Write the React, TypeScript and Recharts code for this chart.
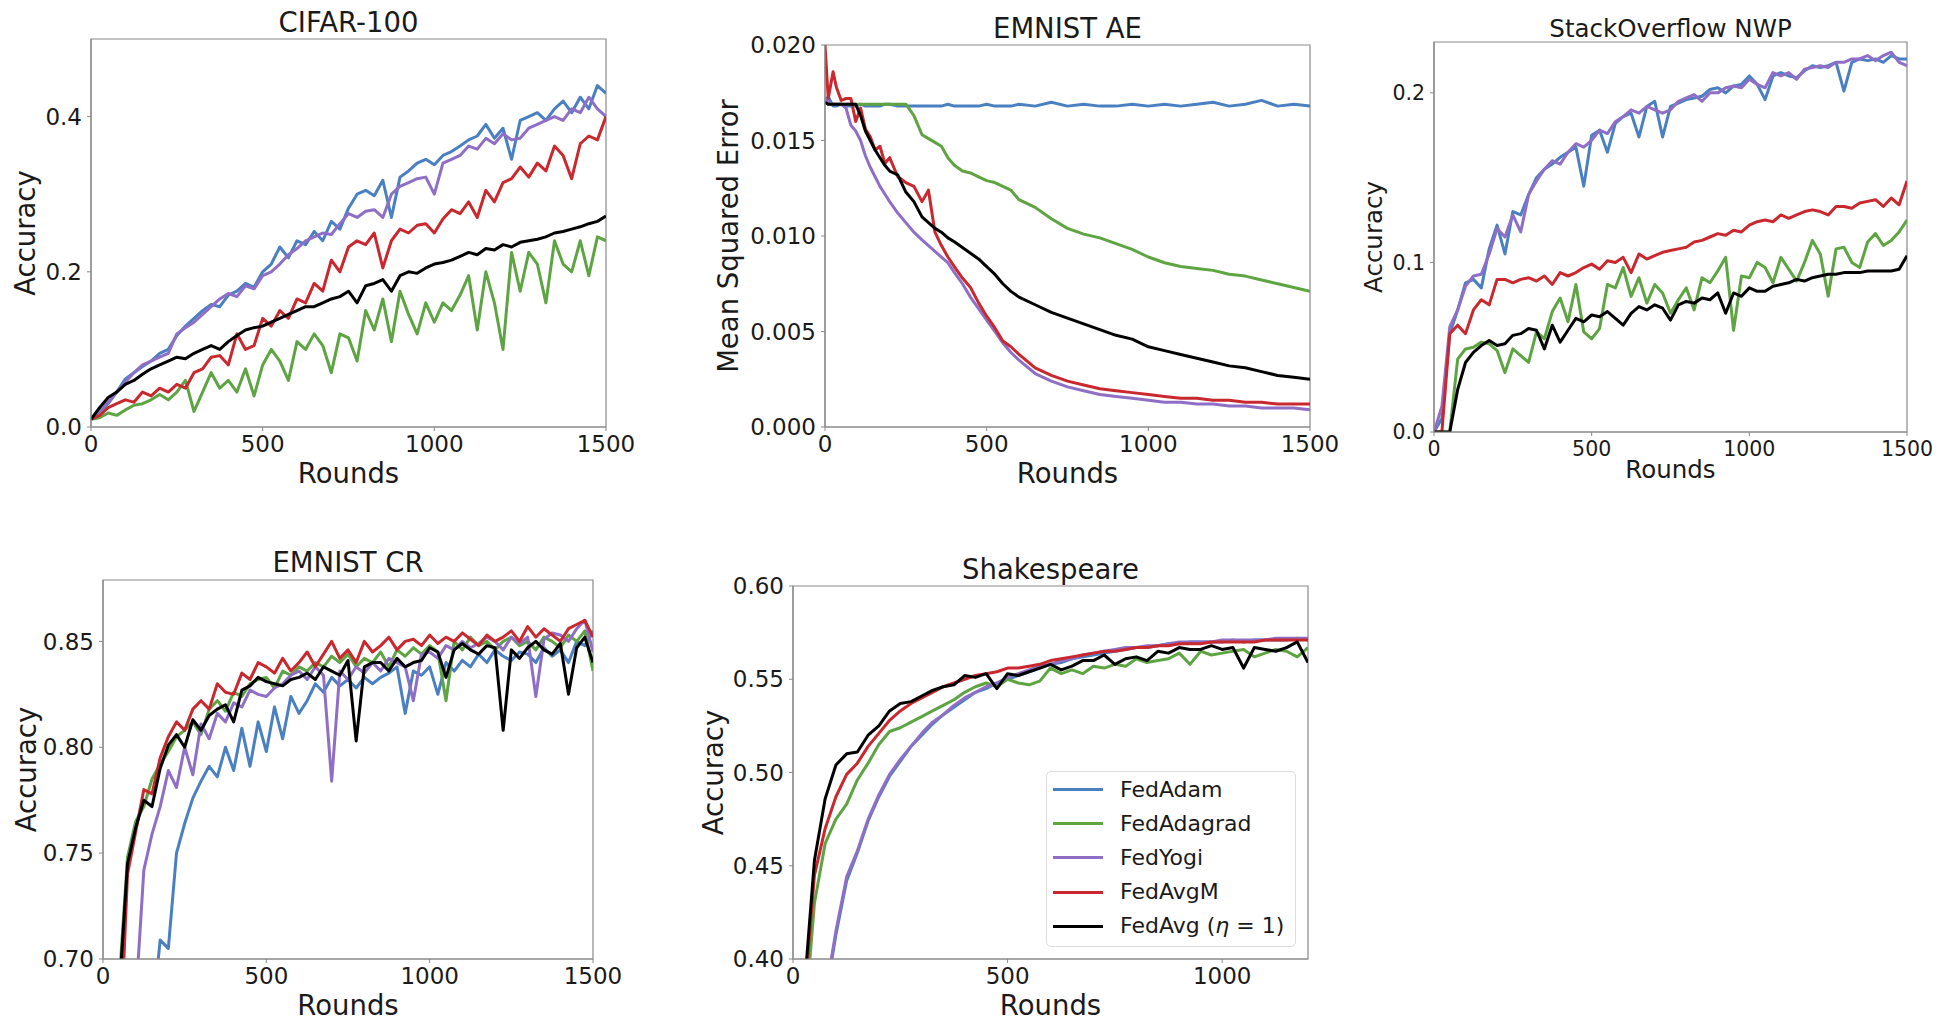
import { LineChart, Line, XAxis, YAxis, ReferenceArea } from 'recharts';

const FONT = '"DejaVu Sans", Verdana, sans-serif';
const FRAME = '#8a8a8a';
const TEXT = '#1a1a1a';

const SERIES = [
  { key: 'adam', name: 'FedAdam', color: '#4a80c2' },
  { key: 'adagrad', name: 'FedAdagrad', color: '#5ea443' },
  { key: 'yogi', name: 'FedYogi', color: '#8f6fc6' },
  { key: 'avgm', name: 'FedAvgM', color: '#c9282e' },
  { key: 'avg', name: 'FedAvg (η = 1)', color: '#000000' },
];

// rounds sampled every 25
const ROUNDS_1500 = [
  0, 25, 50, 75, 100, 125, 150, 175, 200, 225,
  250, 275, 300, 325, 350, 375, 400, 425, 450, 475,
  500, 525, 550, 575, 600, 625, 650, 675, 700, 725,
  750, 775, 800, 825, 850, 875, 900, 925, 950, 975,
  1000, 1025, 1050, 1075, 1100, 1125, 1150, 1175, 1200, 1225,
  1250, 1275, 1300, 1325, 1350, 1375, 1400, 1425, 1450, 1475,
  1500,
];
const ROUNDS_1200 = [
  0, 25, 50, 75, 100, 125, 150, 175, 200, 225,
  250, 275, 300, 325, 350, 375, 400, 425, 450, 475,
  500, 525, 550, 575, 600, 625, 650, 675, 700, 725,
  750, 775, 800, 825, 850, 875, 900, 925, 950, 975,
  1000, 1025, 1050, 1075, 1100, 1125, 1150, 1175,
  1200,
];
const ROUNDS_AE = [
  0, 10, 25, 35, 50, 65, 80, 95, 110, 125,
  140, 155, 170, 185, 200, 225, 250, 275, 300, 320,
  340, 360, 380, 400, 425, 450, 475, 500, 525, 550,
  575, 600, 650, 700, 750, 800, 850, 900, 950, 1000,
  1050, 1100, 1150, 1200, 1250, 1300, 1350, 1400, 1450, 1500,
];

// CIFAR-100
const CIFAR_ADAM = [
  0.010, 0.020, 0.030, 0.045, 0.062, 0.070, 0.078, 0.085, 0.095, 0.100,
  0.118, 0.130, 0.140, 0.150, 0.158, 0.155, 0.170, 0.175, 0.185, 0.180,
  0.200, 0.210, 0.232, 0.218, 0.240, 0.235, 0.252, 0.240, 0.265, 0.255,
  0.282, 0.300, 0.305, 0.298, 0.318, 0.270, 0.322, 0.330, 0.340, 0.345,
  0.338, 0.350, 0.355, 0.362, 0.370, 0.375, 0.390, 0.372, 0.385, 0.345,
  0.395, 0.400, 0.405, 0.395, 0.410, 0.420, 0.405, 0.425, 0.410, 0.440,
  0.430,
];
const CIFAR_ADAGRAD = [
  0.010, 0.012, 0.018, 0.015, 0.022, 0.028, 0.030, 0.035, 0.042, 0.035,
  0.045, 0.060, 0.020, 0.045, 0.070, 0.050, 0.060, 0.045, 0.075, 0.040,
  0.080, 0.100, 0.085, 0.060, 0.110, 0.100, 0.120, 0.105, 0.070, 0.120,
  0.115, 0.085, 0.150, 0.125, 0.165, 0.110, 0.175, 0.145, 0.120, 0.160,
  0.135, 0.160, 0.150, 0.170, 0.195, 0.125, 0.200, 0.160, 0.100, 0.225,
  0.175, 0.225, 0.210, 0.160, 0.240, 0.210, 0.200, 0.240, 0.195, 0.245,
  0.240,
];
const CIFAR_YOGI = [
  0.010, 0.022, 0.032, 0.045, 0.058, 0.070, 0.080, 0.085, 0.090, 0.095,
  0.120, 0.128, 0.135, 0.145, 0.155, 0.165, 0.172, 0.168, 0.182, 0.178,
  0.195, 0.200, 0.210, 0.222, 0.230, 0.240, 0.245, 0.250, 0.248, 0.262,
  0.275, 0.270, 0.278, 0.280, 0.270, 0.300, 0.310, 0.315, 0.320, 0.322,
  0.300, 0.340, 0.345, 0.350, 0.362, 0.358, 0.372, 0.365, 0.378, 0.370,
  0.372, 0.385, 0.390, 0.395, 0.400, 0.395, 0.410, 0.405, 0.425, 0.410,
  0.400,
];
const CIFAR_AVGM = [
  0.010, 0.015, 0.025, 0.030, 0.035, 0.032, 0.045, 0.040, 0.050, 0.045,
  0.055, 0.050, 0.070, 0.075, 0.090, 0.092, 0.080, 0.120, 0.100, 0.105,
  0.140, 0.130, 0.150, 0.140, 0.165, 0.160, 0.185, 0.175, 0.215, 0.200,
  0.232, 0.240, 0.235, 0.250, 0.205, 0.240, 0.255, 0.250, 0.260, 0.262,
  0.250, 0.268, 0.280, 0.275, 0.290, 0.270, 0.305, 0.290, 0.315, 0.320,
  0.335, 0.322, 0.340, 0.330, 0.362, 0.350, 0.320, 0.365, 0.375, 0.370,
  0.400,
];
const CIFAR_AVG = [
  0.010, 0.025, 0.038, 0.045, 0.055, 0.060, 0.068, 0.075, 0.080, 0.085,
  0.090, 0.088, 0.095, 0.100, 0.105, 0.100, 0.110, 0.118, 0.125, 0.128,
  0.130, 0.135, 0.140, 0.145, 0.150, 0.155, 0.155, 0.160, 0.165, 0.168,
  0.175, 0.160, 0.182, 0.185, 0.190, 0.175, 0.195, 0.200, 0.198, 0.205,
  0.210, 0.212, 0.215, 0.220, 0.225, 0.222, 0.230, 0.228, 0.235, 0.232,
  0.238, 0.240, 0.242, 0.245, 0.250, 0.252, 0.255, 0.258, 0.262, 0.265,
  0.272,
];

// EMNIST AE
const AE_ADAM = [
  0.0170, 0.0173, 0.0168, 0.0168, 0.0169, 0.0168, 0.0168, 0.0168, 0.0169, 0.0168,
  0.0168, 0.0168, 0.0168, 0.0169, 0.0169, 0.0168, 0.0168, 0.0168, 0.0168, 0.0168,
  0.0168, 0.0168, 0.0169, 0.0168, 0.0168, 0.0168, 0.0168, 0.0169, 0.0168, 0.0168,
  0.0168, 0.0169, 0.0168, 0.0170, 0.0168, 0.0169, 0.0168, 0.0168, 0.0169, 0.0168,
  0.0169, 0.0168, 0.0169, 0.0170, 0.0168, 0.0169, 0.0171, 0.0168, 0.0169, 0.0168,
];
const AE_ADAGRAD = [
  0.0170, 0.0169, 0.0169, 0.0169, 0.0169, 0.0169, 0.0169, 0.0169, 0.0169, 0.0169,
  0.0169, 0.0169, 0.0169, 0.0169, 0.0169, 0.0169, 0.0169, 0.0163, 0.0153, 0.0151,
  0.0149, 0.0147, 0.0141, 0.0137, 0.0134, 0.0133, 0.0131, 0.0129, 0.0128, 0.0126,
  0.0124, 0.0119, 0.0115, 0.0109, 0.0104, 0.0101, 0.0099, 0.0096, 0.0093, 0.0089,
  0.0086, 0.0084, 0.0083, 0.0082, 0.0080, 0.0079, 0.0077, 0.0075, 0.0073, 0.0071,
];
const AE_YOGI = [
  0.0172, 0.0170, 0.0169, 0.0169, 0.0169, 0.0167, 0.0158, 0.0155, 0.0150, 0.0142,
  0.0136, 0.0131, 0.0126, 0.0122, 0.0118, 0.0112, 0.0107, 0.0102, 0.0098, 0.0095,
  0.0092, 0.0089, 0.0086, 0.0081, 0.0075, 0.0068, 0.0062, 0.0056, 0.0050, 0.0044,
  0.0039, 0.0035, 0.0028, 0.0024, 0.0021, 0.0019, 0.0017, 0.0016, 0.0015, 0.0014,
  0.0013, 0.0013, 0.0012, 0.0012, 0.0011, 0.0011, 0.0010, 0.0010, 0.0010, 0.0009,
];
const AE_AVGM = [
  0.0200, 0.0172, 0.0186, 0.0178, 0.0171, 0.0172, 0.0172, 0.0160, 0.0167, 0.0156,
  0.0152, 0.0145, 0.0147, 0.0138, 0.0141, 0.0131, 0.0128, 0.0126, 0.0118, 0.0124,
  0.0102, 0.0095, 0.0089, 0.0084, 0.0078, 0.0073, 0.0065, 0.0058, 0.0052, 0.0045,
  0.0042, 0.0038, 0.0031, 0.0027, 0.0024, 0.0022, 0.0020, 0.0019, 0.0018, 0.0017,
  0.0016, 0.0015, 0.0015, 0.0014, 0.0014, 0.0013, 0.0013, 0.0012, 0.0012, 0.0012,
];
const AE_AVG = [
  0.0170, 0.0169, 0.0169, 0.0169, 0.0169, 0.0169, 0.0169, 0.0169, 0.0163, 0.0155,
  0.0150, 0.0145, 0.0141, 0.0137, 0.0134, 0.0132, 0.0123, 0.0118, 0.0110, 0.0107,
  0.0104, 0.0102, 0.0099, 0.0097, 0.0094, 0.0091, 0.0088, 0.0084, 0.0080, 0.0075,
  0.0071, 0.0068, 0.0064, 0.0060, 0.0057, 0.0054, 0.0051, 0.0048, 0.0046, 0.0042,
  0.0040, 0.0038, 0.0036, 0.0034, 0.0032, 0.0031, 0.0029, 0.0027, 0.0026, 0.0025,
];

// StackOverflow NWP
const SO_ADAM = [
  0.000, 0.008, 0.058, 0.072, 0.088, 0.090, 0.085, 0.108, 0.122, 0.105,
  0.130, 0.128, 0.140, 0.150, 0.155, 0.158, 0.162, 0.165, 0.168, 0.145,
  0.175, 0.178, 0.165, 0.182, 0.186, 0.188, 0.174, 0.192, 0.195, 0.174,
  0.192, 0.194, 0.196, 0.197, 0.198, 0.202, 0.203, 0.200, 0.204, 0.205,
  0.210, 0.205, 0.196, 0.210, 0.212, 0.210, 0.209, 0.213, 0.216, 0.215,
  0.216, 0.218, 0.201, 0.218, 0.220, 0.219, 0.220, 0.218, 0.222, 0.220,
  0.220,
];
const SO_ADAGRAD = [
  0.000, 0.000, 0.000, 0.043, 0.049, 0.050, 0.053, 0.052, 0.048, 0.035,
  0.049, 0.045, 0.041, 0.059, 0.055, 0.071, 0.079, 0.065, 0.087, 0.059,
  0.055, 0.061, 0.087, 0.085, 0.097, 0.080, 0.091, 0.076, 0.087, 0.082,
  0.070, 0.078, 0.085, 0.072, 0.091, 0.088, 0.095, 0.103, 0.060, 0.092,
  0.091, 0.100, 0.097, 0.088, 0.103, 0.096, 0.089, 0.100, 0.113, 0.105,
  0.080, 0.108, 0.109, 0.100, 0.097, 0.112, 0.117, 0.110, 0.113, 0.118,
  0.125,
];
const SO_YOGI = [
  0.000, 0.015, 0.062, 0.072, 0.086, 0.092, 0.093, 0.105, 0.120, 0.115,
  0.128, 0.118, 0.140, 0.148, 0.155, 0.160, 0.158, 0.165, 0.170, 0.168,
  0.172, 0.178, 0.176, 0.183, 0.186, 0.190, 0.188, 0.192, 0.190, 0.188,
  0.190, 0.195, 0.197, 0.199, 0.195, 0.200, 0.200, 0.203, 0.204, 0.203,
  0.208, 0.205, 0.203, 0.212, 0.210, 0.212, 0.208, 0.214, 0.215, 0.216,
  0.215, 0.218, 0.218, 0.220, 0.220, 0.222, 0.219, 0.222, 0.224, 0.218,
  0.216,
];
const SO_AVGM = [
  0.000, 0.000, 0.058, 0.063, 0.058, 0.072, 0.078, 0.075, 0.090, 0.090,
  0.088, 0.090, 0.091, 0.089, 0.092, 0.087, 0.094, 0.092, 0.094, 0.097,
  0.099, 0.096, 0.101, 0.100, 0.103, 0.094, 0.105, 0.102, 0.104, 0.106,
  0.107, 0.108, 0.109, 0.112, 0.113, 0.115, 0.117, 0.116, 0.119, 0.118,
  0.122, 0.124, 0.125, 0.124, 0.128, 0.126, 0.128, 0.130, 0.131, 0.130,
  0.128, 0.133, 0.133, 0.132, 0.135, 0.136, 0.137, 0.133, 0.138, 0.134,
  0.148,
];
const SO_AVG = [
  0.000, 0.000, 0.000, 0.025, 0.041, 0.047, 0.051, 0.054, 0.051, 0.052,
  0.057, 0.058, 0.061, 0.060, 0.049, 0.063, 0.053, 0.060, 0.067, 0.065,
  0.069, 0.068, 0.071, 0.067, 0.063, 0.070, 0.074, 0.072, 0.075, 0.073,
  0.066, 0.075, 0.077, 0.076, 0.079, 0.078, 0.082, 0.070, 0.082, 0.080,
  0.085, 0.083, 0.083, 0.086, 0.087, 0.088, 0.090, 0.089, 0.091, 0.092,
  0.093, 0.093, 0.094, 0.094, 0.094, 0.095, 0.095, 0.095, 0.095, 0.096,
  0.104,
];

// EMNIST CR
const CR_ADAM = [
  0.050, 0.200, 0.350, 0.450, 0.550, 0.620, 0.670, 0.709, 0.705, 0.750,
  0.764, 0.776, 0.784, 0.791, 0.786, 0.800, 0.789, 0.809, 0.791, 0.812,
  0.798, 0.819, 0.804, 0.824, 0.816, 0.822, 0.830, 0.826, 0.833, 0.829,
  0.832, 0.828, 0.833, 0.830, 0.833, 0.835, 0.838, 0.816, 0.836, 0.834,
  0.838, 0.825, 0.840, 0.836, 0.841, 0.838, 0.844, 0.840, 0.846, 0.843,
  0.841, 0.845, 0.844, 0.840, 0.847, 0.843, 0.846, 0.840, 0.850, 0.848,
  0.855,
];
const CR_ADAGRAD = [
  0.050, 0.440, 0.690, 0.748, 0.765, 0.772, 0.785, 0.792, 0.798, 0.805,
  0.808, 0.812, 0.806, 0.818, 0.822, 0.817, 0.826, 0.824, 0.830, 0.832,
  0.833, 0.828, 0.836, 0.834, 0.838, 0.836, 0.840, 0.838, 0.843, 0.840,
  0.844, 0.838, 0.842, 0.840, 0.845, 0.838, 0.846, 0.843, 0.847, 0.844,
  0.848, 0.845, 0.822, 0.850, 0.846, 0.852, 0.848, 0.850, 0.846, 0.850,
  0.852, 0.848, 0.850, 0.846, 0.852, 0.850, 0.847, 0.853, 0.850, 0.855,
  0.836,
];
const CR_YOGI = [
  0.050, 0.250, 0.420, 0.550, 0.680, 0.742, 0.759, 0.772, 0.789, 0.781,
  0.800, 0.787, 0.811, 0.804, 0.816, 0.812, 0.821, 0.819, 0.827, 0.825,
  0.824, 0.828, 0.830, 0.834, 0.836, 0.832, 0.838, 0.834, 0.784, 0.836,
  0.832, 0.838, 0.835, 0.840, 0.836, 0.842, 0.840, 0.838, 0.822, 0.844,
  0.845, 0.842, 0.848, 0.846, 0.850, 0.847, 0.849, 0.852, 0.850, 0.846,
  0.852, 0.849, 0.852, 0.824, 0.851, 0.854, 0.853, 0.850, 0.856, 0.860,
  0.845,
];
const CR_AVGM = [
  0.050, 0.420, 0.650, 0.740, 0.760, 0.780, 0.778, 0.795, 0.805, 0.812,
  0.808, 0.818, 0.822, 0.818, 0.830, 0.826, 0.825, 0.835, 0.832, 0.840,
  0.838, 0.835, 0.842, 0.836, 0.840, 0.845, 0.838, 0.844, 0.850, 0.842,
  0.846, 0.840, 0.850, 0.845, 0.848, 0.852, 0.846, 0.850, 0.851, 0.848,
  0.853, 0.849, 0.852, 0.850, 0.854, 0.851, 0.848, 0.853, 0.850, 0.852,
  0.855, 0.850, 0.857, 0.852, 0.856, 0.853, 0.850, 0.856, 0.858, 0.860,
  0.852,
];
const CR_AVG = [
  0.050, 0.450, 0.685, 0.745, 0.762, 0.775, 0.772, 0.790, 0.801, 0.806,
  0.800, 0.813, 0.808, 0.815, 0.818, 0.820, 0.812, 0.827, 0.829, 0.833,
  0.831, 0.830, 0.829, 0.832, 0.833, 0.835, 0.832, 0.838, 0.836, 0.834,
  0.841, 0.803, 0.838, 0.840, 0.840, 0.836, 0.842, 0.838, 0.840, 0.841,
  0.847, 0.845, 0.833, 0.846, 0.849, 0.846, 0.844, 0.848, 0.847, 0.808,
  0.846, 0.842, 0.847, 0.850, 0.846, 0.844, 0.849, 0.825, 0.847, 0.852,
  0.840,
];

// Shakespeare
const SH_ADAM = [
  0.050, 0.200, 0.330, 0.378, 0.413, 0.442, 0.457, 0.474, 0.487, 0.498,
  0.506, 0.514, 0.520, 0.526, 0.531, 0.535, 0.539, 0.543, 0.545, 0.548,
  0.550, 0.552, 0.554, 0.556, 0.558, 0.559, 0.561, 0.562, 0.563, 0.564,
  0.565, 0.566, 0.567, 0.567, 0.568, 0.569, 0.569, 0.570, 0.570, 0.570,
  0.570, 0.571, 0.570, 0.571, 0.571, 0.571, 0.571, 0.572,
  0.571,
];
const SH_ADAGRAD = [
  0.100, 0.360, 0.430, 0.462, 0.475, 0.483, 0.496, 0.505, 0.515, 0.522,
  0.524, 0.527, 0.530, 0.533, 0.536, 0.539, 0.543, 0.546, 0.548, 0.546,
  0.550, 0.548, 0.547, 0.549, 0.556, 0.553, 0.555, 0.553, 0.557, 0.556,
  0.558, 0.557, 0.561, 0.559, 0.560, 0.561, 0.564, 0.558, 0.565, 0.563,
  0.564, 0.565, 0.566, 0.562, 0.564, 0.566, 0.565, 0.562,
  0.567,
];
const SH_YOGI = [
  0.050, 0.200, 0.330, 0.380, 0.415, 0.444, 0.458, 0.475, 0.488, 0.499,
  0.507, 0.514, 0.521, 0.527, 0.531, 0.536, 0.540, 0.543, 0.546, 0.548,
  0.551, 0.553, 0.555, 0.557, 0.558, 0.560, 0.561, 0.563, 0.564, 0.565,
  0.566, 0.567, 0.567, 0.568, 0.568, 0.569, 0.570, 0.570, 0.570, 0.570,
  0.571, 0.571, 0.571, 0.571, 0.571, 0.572, 0.572, 0.572,
  0.572,
];
const SH_AVGM = [
  0.100, 0.375, 0.445, 0.470, 0.487, 0.499, 0.505, 0.514, 0.521, 0.528,
  0.533, 0.537, 0.540, 0.543, 0.546, 0.548, 0.550, 0.552, 0.553, 0.554,
  0.556, 0.556, 0.557, 0.558, 0.560, 0.561, 0.562, 0.563, 0.564, 0.565,
  0.565, 0.566, 0.567, 0.567, 0.568, 0.568, 0.569, 0.569, 0.569, 0.570,
  0.570, 0.570, 0.570, 0.570, 0.571, 0.571, 0.571, 0.571,
  0.571,
];
const SH_AVG = [
  0.100, 0.380, 0.453, 0.486, 0.504, 0.510, 0.511, 0.520, 0.525, 0.533,
  0.537, 0.538, 0.541, 0.544, 0.546, 0.547, 0.552, 0.551, 0.553, 0.545,
  0.553, 0.552, 0.554, 0.556, 0.558, 0.555, 0.557, 0.560, 0.560, 0.563,
  0.558, 0.561, 0.562, 0.560, 0.565, 0.564, 0.567, 0.566, 0.566, 0.568,
  0.566, 0.567, 0.556, 0.567, 0.566, 0.565, 0.567, 0.570,
  0.559,
];

const PANELS = [
  {
    title: 'CIFAR-100', ylabel: 'Accuracy',
    rounds: ROUNDS_1500,
    values: { adam: CIFAR_ADAM, adagrad: CIFAR_ADAGRAD, yogi: CIFAR_YOGI, avgm: CIFAR_AVGM, avg: CIFAR_AVG },
    xDomain: [0, 1500], xTicks: [0, 500, 1000, 1500],
    yDomain: [0, 0.5], yTicks: [0, 0.2, 0.4], digits: 1,
    box: { left: 91, top: 39, width: 515, height: 388 },
    titleY: 32, xlabelY: 483, ylabelX: 35, tickFont: 23, labelFont: 27.5,
  },
  {
    title: 'EMNIST AE', ylabel: 'Mean Squared Error',
    rounds: ROUNDS_AE,
    values: { adam: AE_ADAM, adagrad: AE_ADAGRAD, yogi: AE_YOGI, avgm: AE_AVGM, avg: AE_AVG },
    xDomain: [0, 1500], xTicks: [0, 500, 1000, 1500],
    yDomain: [0, 0.02], yTicks: [0, 0.005, 0.01, 0.015, 0.02], digits: 3,
    box: { left: 825, top: 45, width: 485, height: 382 },
    titleY: 38, xlabelY: 483, ylabelX: 738, tickFont: 23, labelFont: 27.5,
  },
  {
    title: 'StackOverflow NWP', ylabel: 'Accuracy',
    rounds: ROUNDS_1500,
    values: { adam: SO_ADAM, adagrad: SO_ADAGRAD, yogi: SO_YOGI, avgm: SO_AVGM, avg: SO_AVG },
    xDomain: [0, 1500], xTicks: [0, 500, 1000, 1500],
    yDomain: [0, 0.23], yTicks: [0, 0.1, 0.2], digits: 1,
    box: { left: 1434, top: 42, width: 473, height: 390 },
    titleY: 37, xlabelY: 478, ylabelX: 1382, tickFont: 20.5, labelFont: 24.5,
  },
  {
    title: 'EMNIST CR', ylabel: 'Accuracy',
    rounds: ROUNDS_1500,
    values: { adam: CR_ADAM, adagrad: CR_ADAGRAD, yogi: CR_YOGI, avgm: CR_AVGM, avg: CR_AVG },
    xDomain: [0, 1500], xTicks: [0, 500, 1000, 1500],
    yDomain: [0.7, 0.879], yTicks: [0.7, 0.75, 0.8, 0.85], digits: 2,
    box: { left: 103, top: 580, width: 490, height: 379 },
    titleY: 572, xlabelY: 1015, ylabelX: 36, tickFont: 23, labelFont: 27.5,
  },
  {
    title: 'Shakespeare', ylabel: 'Accuracy',
    rounds: ROUNDS_1200,
    values: { adam: SH_ADAM, adagrad: SH_ADAGRAD, yogi: SH_YOGI, avgm: SH_AVGM, avg: SH_AVG },
    xDomain: [0, 1200], xTicks: [0, 500, 1000],
    yDomain: [0.4, 0.6], yTicks: [0.4, 0.45, 0.5, 0.55, 0.6], digits: 2,
    box: { left: 793, top: 586, width: 515, height: 373 },
    titleY: 579, xlabelY: 1015, ylabelX: 723, tickFont: 23, labelFont: 27.5,
  },
];

const YW = 100;
const TOP = 20;
const RIGHT = 45;
const XH = 50;

function Panel({ p }: { p: any }) {
  const data = p.rounds.map((r: number, i: number) => {
    const row: any = { round: r };
    SERIES.forEach((s) => { row[s.key] = p.values[s.key][i]; });
    return row;
  });
  const tick = { fill: TEXT, fontSize: p.tickFont, fontFamily: FONT };
  return (
    <div style={{ position: 'absolute', left: p.box.left - YW, top: p.box.top - TOP }}>
      <LineChart
        width={p.box.width + YW + RIGHT}
        height={p.box.height + TOP + XH}
        data={data}
        margin={{ top: TOP, right: RIGHT, bottom: 0, left: 0 }}
      >
        <XAxis
          dataKey="round" type="number" domain={p.xDomain} ticks={p.xTicks} interval={0}
          allowDataOverflow height={XH} tickSize={4} tickMargin={5}
          axisLine={{ stroke: FRAME, strokeWidth: 1.2 }} tickLine={{ stroke: FRAME }} tick={tick}
        />
        <YAxis
          type="number" domain={p.yDomain} ticks={p.yTicks} interval={0}
          allowDataOverflow width={YW} tickSize={4} tickMargin={5}
          axisLine={{ stroke: FRAME, strokeWidth: 1.2 }} tickLine={{ stroke: FRAME }} tick={tick}
          tickFormatter={(v: number) => v.toFixed(p.digits)}
        />
        <ReferenceArea
          x1={p.xDomain[0]} x2={p.xDomain[1]} y1={p.yDomain[0]} y2={p.yDomain[1]}
          fill="none" stroke={FRAME} strokeWidth={1.2}
        />
        {SERIES.map((s) => (
          <Line
            key={s.key} dataKey={s.key} name={s.name} type="linear" stroke={s.color}
            strokeWidth={3} strokeLinejoin="round" dot={false} isAnimationActive={false}
          />
        ))}
      </LineChart>
    </div>
  );
}

function LegendName({ name }: { name: string }) {
  if (!name.includes('η')) return <>{name}</>;
  const [a, b] = name.split('η');
  return <>{a}<i>η</i>{b}</>;
}

function LegendBox() {
  return (
    <div style={{
      position: 'absolute', left: 1046, top: 771, width: 250, height: 176,
      border: '1px solid #dcdcdc', borderRadius: 5, background: 'rgba(255,255,255,0.85)',
      boxSizing: 'border-box',
    }}>
      {SERIES.map((s, i) => (
        <div key={s.key} style={{
          position: 'absolute', left: 6, top: 3.5 + i * 34.2, height: 28,
          display: 'flex', alignItems: 'center', whiteSpace: 'nowrap',
        }}>
          <div style={{ width: 50, height: 3, background: s.color }} />
          <span style={{ marginLeft: 17, fontFamily: FONT, fontSize: 22, color: TEXT, lineHeight: '28px' }}>
            <LegendName name={s.name} />
          </span>
        </div>
      ))}
    </div>
  );
}

export default function App() {
  return (
    <div style={{
      position: 'absolute', left: 0, top: 0, width: 1956, height: 1020,
      background: '#ffffff', overflow: 'hidden',
    }}>
      {PANELS.map((p) => <Panel key={p.title} p={p} />)}
      <svg width={1956} height={1020} style={{ position: 'absolute', left: 0, top: 0, pointerEvents: 'none' }}>
        {PANELS.map((p) => {
          const cx = p.box.left + p.box.width / 2;
          const cy = p.box.top + p.box.height / 2;
          const st = { fontFamily: FONT, fontSize: p.labelFont, fill: TEXT };
          return (
            <g key={p.title}>
              <text x={cx} y={p.titleY} textAnchor="middle" style={st}>{p.title}</text>
              <text x={cx} y={p.xlabelY} textAnchor="middle" style={st}>Rounds</text>
              <text transform={`translate(${p.ylabelX},${cy}) rotate(-90)`} textAnchor="middle" style={st}>
                {p.ylabel}
              </text>
            </g>
          );
        })}
      </svg>
      <LegendBox />
    </div>
  );
}
